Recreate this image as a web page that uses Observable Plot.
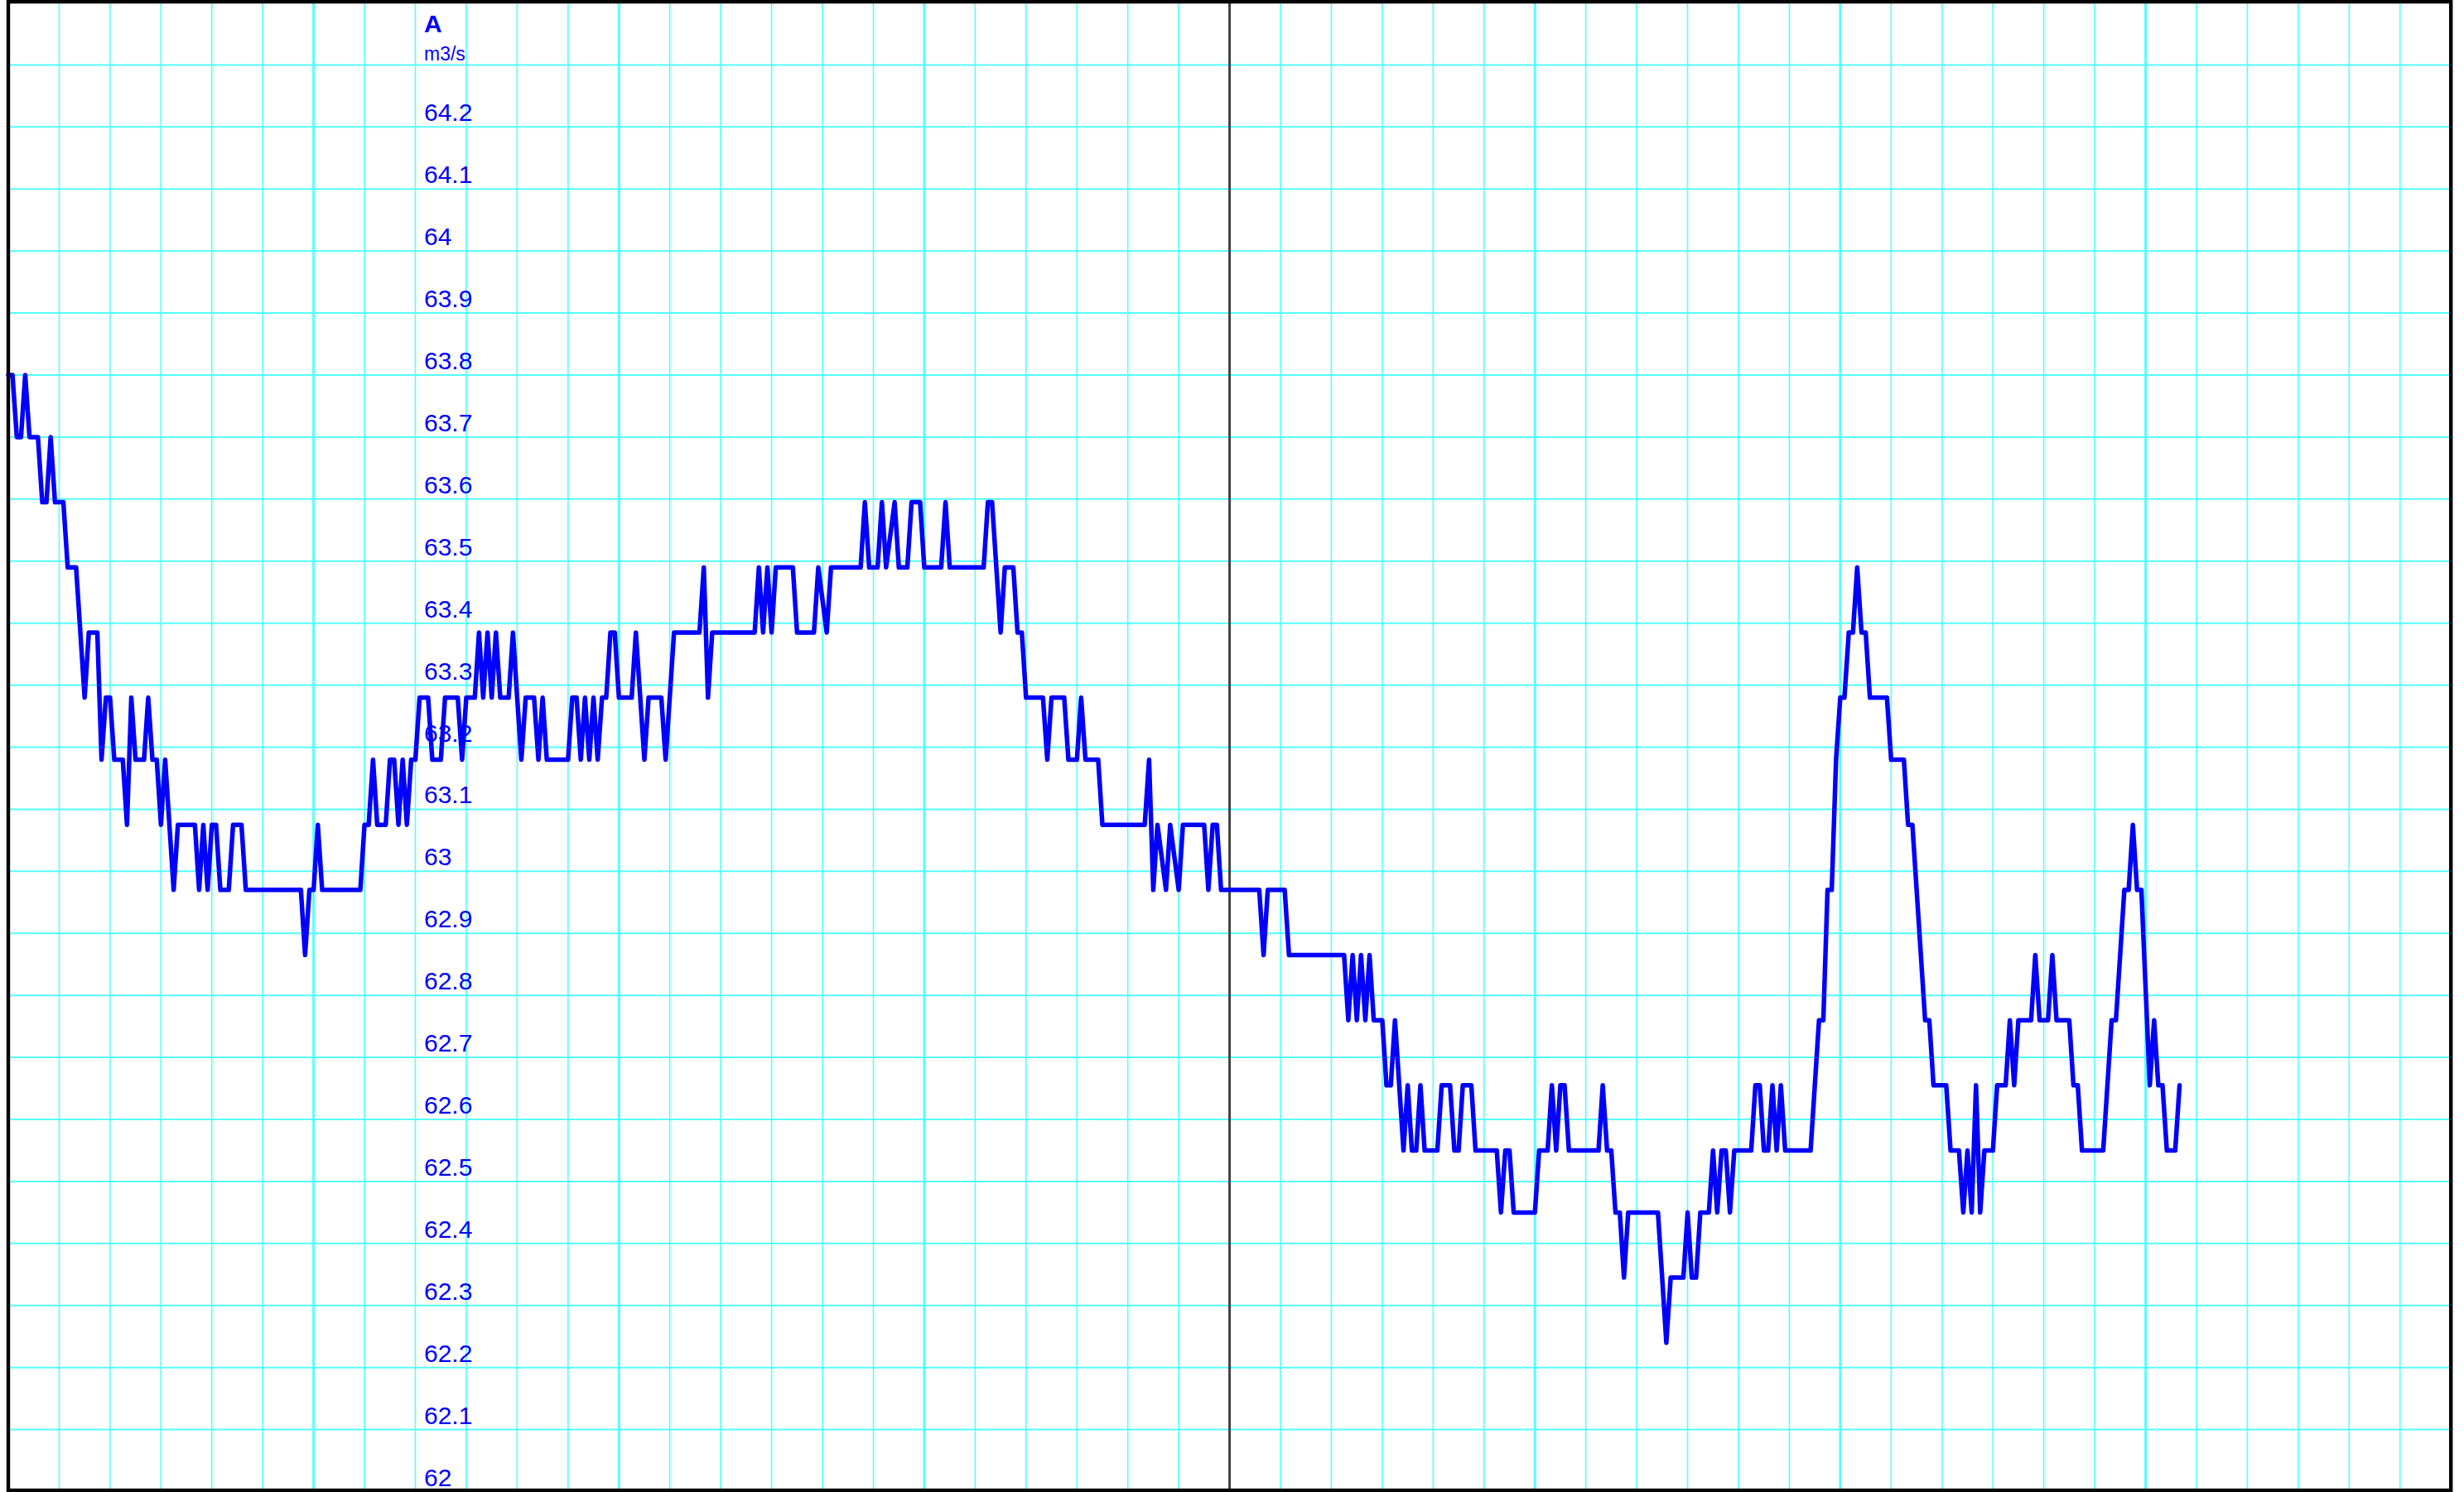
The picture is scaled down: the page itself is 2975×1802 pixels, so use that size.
<!DOCTYPE html>
<html><head><meta charset="utf-8">
<script src="https://cdn.jsdelivr.net/npm/d3@7"></script>
<script src="https://cdn.jsdelivr.net/npm/@observablehq/plot@0.6"></script>
<style>html,body{margin:0;padding:0;background:#fff;overflow:hidden}</style>
</head><body><div id="chart"></div>
<script>
// Header text
const seriesName = "A";
const unitLabel = "m3/s";

// Y tick values and their labels
const yTicks = [62, 62.1, 62.2, 62.3, 62.4, 62.5, 62.6, 62.7, 62.8, 62.9, 63, 63.1, 63.2, 63.3, 63.4, 63.5, 63.6, 63.7, 63.8, 63.9, 64, 64.1, 64.2];
const yTickLabels = ["62", "62.1", "62.2", "62.3", "62.4", "62.5", "62.6", "62.7", "62.8", "62.9", "63", "63.1", "63.2", "63.3", "63.4", "63.5", "63.6", "63.7", "63.8", "63.9", "64", "64.1", "64.2"];
const yGridLines = [62.1, 62.2, 62.3, 62.4, 62.5, 62.6, 62.7, 62.8, 62.9, 63, 63.1, 63.2, 63.3, 63.4, 63.5, 63.6, 63.7, 63.8, 63.9, 64, 64.1, 64.2, 64.3];

// X grid (hours): minor every 4 h, major every day, dark boundary at day 4
const xMinorLines = [4, 8, 12, 16, 20, 28, 32, 36, 40, 44, 52, 56, 60, 64, 68, 76, 80, 84, 88, 92, 100, 104, 108, 112, 116, 124, 128, 132, 136, 140, 148, 152, 156, 160, 164, 172, 176, 180, 184, 188];
const xMajorLines = [24, 48, 72, 120, 144, 168];
const xBoundaryLines = [96];

// Flow series: [hour, m3/s] vertices of the recorded line
const flowSeries = [
[0,63.80],[0.33,63.80],[0.67,63.70],[1,63.70],[1.33,63.80],[1.67,63.70],[2.33,63.70],[2.67,63.595],[3,63.595],[3.33,63.70],[3.67,63.595],[4.33,63.595],[4.67,63.49],[5.33,63.49],[6,63.28],[6.33,63.385],[7,63.385],[7.33,63.18],[7.67,63.28],[8,63.28],[8.33,63.18],[9,63.18],[9.33,63.075],[9.67,63.28],[10,63.18],[10.67,63.18],[11,63.28],[11.33,63.18],[11.67,63.18],[12,63.075],[12.33,63.18],[13,62.97],[13.33,63.075],[14.67,63.075],[15,62.97],[15.33,63.075],[15.67,62.97],[16,63.075],[16.33,63.075],[16.67,62.97],[17.33,62.97],[17.67,63.075],[18.33,63.075],[18.67,62.97],[23,62.97],[23.33,62.865],[23.67,62.97],[24,62.97],[24.33,63.075],[24.67,62.97],[27.67,62.97],[28,63.075],[28.33,63.075],[28.67,63.18],[29,63.075],[29.67,63.075],[30,63.18],[30.33,63.18],[30.67,63.075],[31,63.18],[31.33,63.075],[31.67,63.18],[32,63.18],[32.33,63.28],[33,63.28],[33.33,63.18],[34,63.18],[34.33,63.28],[35.33,63.28],[35.67,63.18],[36,63.28],[36.67,63.28],[37,63.385],[37.33,63.28],[37.67,63.385],[38,63.28],[38.33,63.385],[38.67,63.28],[39.33,63.28],[39.67,63.385],[40,63.28],[40.33,63.18],[40.67,63.28],[41.33,63.28],[41.67,63.18],[42,63.28],[42.33,63.18],[44,63.18],[44.33,63.28],[44.67,63.28],
[45,63.18],[45.33,63.28],[45.67,63.18],[46,63.28],[46.33,63.18],[46.67,63.28],[47,63.28],[47.33,63.385],[47.67,63.385],[48,63.28],[49,63.28],[49.33,63.385],[50,63.18],[50.33,63.28],[51.33,63.28],[51.67,63.18],[52.33,63.385],[54.33,63.385],[54.67,63.49],[55,63.28],[55.33,63.385],[58.67,63.385],[59,63.49],[59.33,63.385],[59.67,63.49],[60,63.385],[60.33,63.49],[61.67,63.49],[62,63.385],[63.33,63.385],[63.67,63.49],[64.33,63.385],[64.67,63.49],[67,63.49],[67.33,63.595],[67.67,63.49],[68.33,63.49],[68.67,63.595],[69,63.49],[69.67,63.595],[70,63.49],[70.67,63.49],[71,63.595],[71.67,63.595],[72,63.49],[73.33,63.49],[73.67,63.595],[74,63.49],[76.67,63.49],[77,63.595],[77.33,63.595],[78,63.385],[78.33,63.49],[79,63.49],[79.33,63.385],[79.67,63.385],[80,63.28],[81.33,63.28],[81.67,63.18],[82,63.28],[83,63.28],[83.33,63.18],[84,63.18],[84.33,63.28],[84.67,63.18],[85.67,63.18],[86,63.075],[89.33,63.075],[89.67,63.18],[90,62.97],[90.33,63.075],[91,62.97],[91.33,63.075],[92,62.97],[92.33,63.075],[94,63.075],[94.33,62.97],[94.67,63.075],[95,63.075],[95.33,62.97],
[98.33,62.97],[98.67,62.865],[99,62.97],[100.33,62.97],[100.67,62.865],[105,62.865],[105.33,62.76],[105.67,62.865],[106,62.76],[106.33,62.865],[106.67,62.76],[107,62.865],[107.33,62.76],[108,62.76],[108.33,62.655],[108.67,62.655],[109,62.76],[109.67,62.55],[110,62.655],[110.33,62.55],[110.67,62.55],[111,62.655],[111.33,62.55],[112.33,62.55],[112.67,62.655],[113.33,62.655],[113.67,62.55],[114,62.55],[114.33,62.655],[115,62.655],[115.33,62.55],[117,62.55],[117.33,62.45],[117.67,62.55],[118,62.55],[118.33,62.45],[120,62.45],[120.33,62.55],[121,62.55],[121.33,62.655],[121.67,62.55],[122,62.655],[122.33,62.655],[122.67,62.55],[125,62.55],[125.33,62.655],[125.67,62.55],[126,62.55],[126.33,62.45],[126.67,62.45],[127,62.345],[127.33,62.45],[129.67,62.45],[130.33,62.24],[130.67,62.345],[131.67,62.345],[132,62.45],[132.33,62.345],[132.67,62.345],[133,62.45],[133.67,62.45],[134,62.55],[134.33,62.45],[134.67,62.55],[135,62.55],[135.33,62.45],[135.67,62.55],
[137,62.55],[137.33,62.655],[137.67,62.655],[138,62.55],[138.33,62.55],[138.67,62.655],[139,62.55],[139.33,62.655],[139.67,62.55],[141.67,62.55],[142.33,62.76],[142.67,62.76],[143,62.97],[143.33,62.97],[143.67,63.18],[144,63.28],[144.33,63.28],[144.67,63.385],[145,63.385],[145.33,63.49],[145.67,63.385],[146,63.385],[146.33,63.28],[147.67,63.28],[148,63.18],[149,63.18],[149.33,63.075],[149.67,63.075],[150.67,62.76],[151,62.76],[151.33,62.655],[152.33,62.655],[152.67,62.55],[153.33,62.55],[153.67,62.45],[154,62.55],[154.33,62.45],[154.67,62.655],[155,62.45],[155.33,62.55],[156,62.55],[156.33,62.655],[157,62.655],[157.33,62.76],[157.67,62.655],[158,62.76],[159,62.76],[159.33,62.865],[159.67,62.76],[160.33,62.76],[160.67,62.865],[161,62.76],[162,62.76],[162.33,62.655],[162.67,62.655],[163,62.55],[164.67,62.55],[165.33,62.76],[165.67,62.76],[166.33,62.97],[166.67,62.97],[167,63.075],[167.33,62.97],[167.67,62.97],[168.33,62.655],[168.67,62.76],[169,62.655],[169.33,62.655],[169.67,62.55],[170.33,62.55],[170.67,62.655]
];

const data = flowSeries.map(([h, v]) => ({h, v}));
const labelOf = new Map(yTicks.map((t, i) => [t, yTickLabels[i]]));

const BLUE = "#0000ff";
const CYAN = "#55ffff";

const chart = Plot.plot({
  width: 2975,
  height: 1802,
  marginLeft: 9.5,
  marginRight: 16.3,
  marginTop: 3,
  marginBottom: 1,
  style: {fontFamily: "'Liberation Sans', Arial, sans-serif", background: "#fff"},
  x: {type: "linear", domain: [0, 192], axis: null},
  y: {type: "linear", domain: [62, 64.4], axis: null},
  marks: [
    Plot.gridY(yGridLines, {stroke: CYAN, strokeOpacity: 1, strokeWidth: 2}),
    Plot.gridX(xMinorLines, {stroke: CYAN, strokeOpacity: 1, strokeWidth: 1.6}),
    Plot.gridX(xMajorLines, {stroke: CYAN, strokeOpacity: 1, strokeWidth: 3}),
    Plot.gridX(xBoundaryLines, {stroke: "#404040", strokeOpacity: 1, strokeWidth: 3}),
    Plot.axisY(yTicks, {
      anchor: "left", label: null, tickSize: 0, tickPadding: 0,
      textAnchor: "start", lineAnchor: "bottom",
      dx: 502, dy: -7, fontSize: 30, fill: BLUE,
      tickFormat: d => labelOf.get(d)
    }),
    Plot.text([seriesName], {frameAnchor: "top-left", text: d => d, dx: 502, dy: 35, lineAnchor: "bottom", textAnchor: "start", fontSize: 30, fontWeight: "bold", fill: BLUE}),
    Plot.text([unitLabel], {frameAnchor: "top-left", text: d => d, dx: 502, dy: 69, lineAnchor: "bottom", textAnchor: "start", fontSize: 23, fill: BLUE}),
    Plot.line(data, {x: "h", y: "v", stroke: BLUE, strokeWidth: 5.5}),
    Plot.frame({stroke: "#000", strokeWidth: 4.4, insetTop: -1.4, insetBottom: 1.5})
  ]
});
document.getElementById("chart").appendChild(chart);
</script>
</body></html>
